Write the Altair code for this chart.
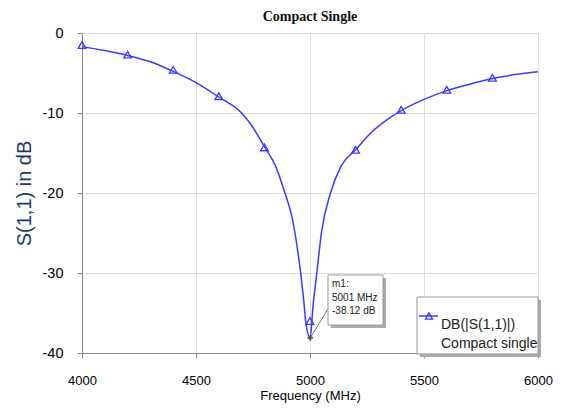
import altair as alt
import pandas as pd

# Curve samples (frequency in MHz, S11 in dB)
freq = [4000, 4100, 4200, 4300, 4400, 4500, 4600, 4700, 4740, 4800, 4850, 4890,
        4920, 4945, 4960, 4972, 4983, 5001, 5013, 5030, 5050, 5090, 5137, 5200,
        5270, 5340, 5400, 5500, 5600, 5700, 5800, 5900, 6000]
s11 = [-1.7, -2.2, -2.8, -3.6, -4.8, -6.2, -8.0, -10.0, -11.4, -14.2, -16.7, -20.0,
       -22.9, -27.0, -30.2, -33.3, -36.5, -38.12, -34.2, -30.0, -25.0, -20.0, -16.6, -14.6,
       -12.4, -10.8, -9.7, -8.3, -7.2, -6.4, -5.7, -5.2, -4.85]

# Triangle trace markers
mark_freq = [4000, 4200, 4400, 4600, 4800, 5000, 5200, 5400, 5600, 5800]
mark_db = [-1.5, -2.7, -4.6, -7.9, -14.3, -36.0, -14.6, -9.6, -7.1, -5.6]

# Marker m1
m_name = ["m1"]
m_freq = [5001]
m_db = [-38.12]

series_name = "DB(|S(1,1)|)"
series_sub = "Compact single"

BLUE = "#3a3aff"

curve = pd.DataFrame({"f": freq, "db": s11})
tri = pd.DataFrame({"f": mark_freq, "db": mark_db})
mk = pd.DataFrame({"name": m_name, "f": m_freq, "db": m_db})
one = alt.Data(values=[{"a": 1}])

xs = alt.Scale(domain=[4000, 6000], nice=False)
ys = alt.Scale(domain=[-40, 0], nice=False)

xax = alt.Axis(values=[4000, 4500, 5000, 5500, 6000], title="Frequency (MHz)",
               labelExpr="'' + datum.value", labelFlush=False,
               labelFontSize=13, titleFontSize=13, labelPadding=16, titlePadding=2,
               titleFontWeight="normal")
yax = alt.Axis(values=[0, -10, -20, -30, -40], title="S(1,1) in dB",
               labelExpr="'' + datum.value", labelFlush=False,
               labelFontSize=14.5, titleFontSize=20, labelPadding=14, titlePadding=8,
               titleFontWeight="normal", titleColor="#1f3864")

line = alt.Chart(curve).mark_line(color=BLUE, strokeWidth=1.5, interpolate="monotone").encode(
    x=alt.X("f:Q", scale=xs, axis=xax),
    y=alt.Y("db:Q", scale=ys, axis=yax),
)

tris = alt.Chart(tri).mark_point(shape="triangle-up", filled=False, color=BLUE,
                                 size=60, strokeWidth=1.3, opacity=1).encode(
    x=alt.X("f:Q", scale=xs), y=alt.Y("db:Q", scale=ys))

leader = alt.Chart(mk).mark_rule(color="#777", strokeWidth=1).encode(
    x=alt.X("f:Q", scale=xs), y=alt.Y("db:Q", scale=ys),
    x2=alt.value(246), y2=alt.value(276))

mpt = alt.Chart(mk).mark_point(shape="cross", filled=True, color="#333", size=30).encode(
    x=alt.X("f:Q", scale=xs), y=alt.Y("db:Q", scale=ys))

mbox_sh = alt.Chart(one).mark_rect(fill="#aaa").encode(
    x=alt.value(249), x2=alt.value(304), y=alt.value(245), y2=alt.value(295))
mbox = alt.Chart(one).mark_rect(fill="white", stroke="#999", strokeWidth=1).encode(
    x=alt.value(246), x2=alt.value(301), y=alt.value(242), y2=alt.value(292))
mtext = alt.Chart(mk).transform_calculate(
    t="[datum.name + ':', datum.f + ' MHz', toString(datum.db) + ' dB']"
).mark_text(align="left", baseline="top", fontSize=10, lineHeight=13.5,
            font="Liberation Sans", color="#222").encode(
    x=alt.value(250), y=alt.value(246), text="t:N")

lbox_sh = alt.Chart(one).mark_rect(fill="#aaa").encode(
    x=alt.value(338), x2=alt.value(459), y=alt.value(267), y2=alt.value(324))
lbox = alt.Chart(one).mark_rect(fill="white", stroke="#999", strokeWidth=1).encode(
    x=alt.value(335), x2=alt.value(456), y=alt.value(264), y2=alt.value(321))
lline = alt.Chart(one).mark_rule(color=BLUE, strokeWidth=1.5).encode(
    x=alt.value(337), x2=alt.value(356), y=alt.value(283))
ltri = alt.Chart(one).mark_point(shape="triangle-up", filled=False, color=BLUE,
                                 size=50, strokeWidth=1.3, opacity=1).encode(
    x=alt.value(347), y=alt.value(283))
ltext = alt.Chart(one).mark_text(align="left", baseline="middle", fontSize=14,
                                 lineHeight=19, font="Liberation Sans", color="#222").encode(
    x=alt.value(359), y=alt.value(292), text=alt.value([series_name, series_sub]))

chart = alt.layer(line, tris, leader, mbox_sh, mbox, mtext, mpt,
                  lbox_sh, lbox, lline, ltri, ltext).properties(
    width=456, height=320,
    title=alt.TitleParams("Compact Single", font="Liberation Serif", fontSize=14,
                          fontWeight="bold", offset=1, color="#111", anchor="middle"),
    autosize=alt.AutoSizeParams(type="none"),
    padding={"left": 74, "top": 25, "right": 19, "bottom": 57},
).configure_view(stroke="#8c8c8c", strokeWidth=2).configure_axis(
    grid=True, gridColor="#e3e3e3", gridWidth=1.5, domain=False, ticks=False,
    labelFont="Liberation Sans", titleFont="Liberation Sans",
    labelColor="#222", titleColor="#222"
).configure(background="white")

chart.save("out.html", embed_options={"renderer": "svg", "actions": False})
